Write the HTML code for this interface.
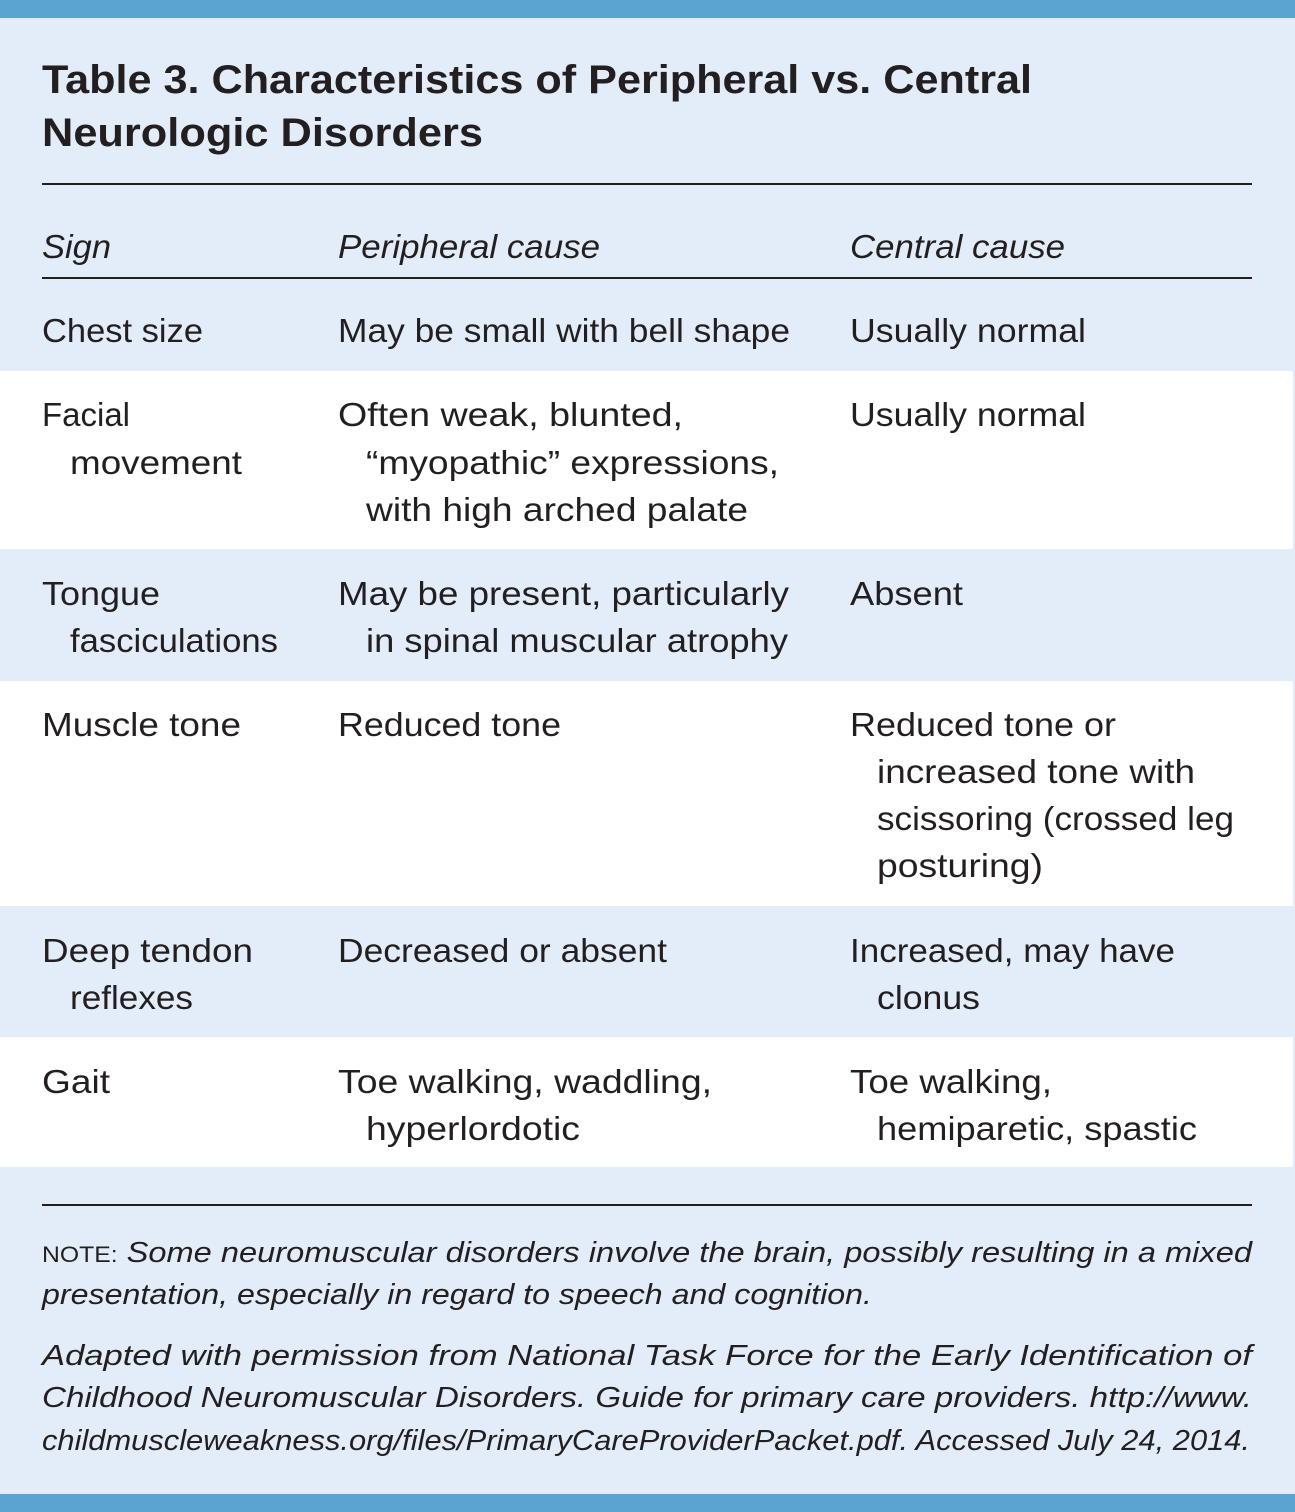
<!DOCTYPE html>
<html><head><meta charset="utf-8"><style>html,body{margin:0;padding:0;background:#e3edf9}svg{display:block}</style></head>
<body>
<svg width="1295" height="1512" viewBox="0 0 1295 1512" xmlns="http://www.w3.org/2000/svg" font-family="Liberation Sans, sans-serif" fill="#231f20">
<rect x="0" y="0" width="1295" height="1512" fill="#e3edf9"/>
<rect x="0" y="0" width="1295" height="18" fill="#5ba3d0"/>
<rect x="0" y="1494" width="1295" height="18" fill="#5ba3d0"/>
<rect x="0" y="371" width="1293" height="178" fill="#ffffff"/>
<rect x="0" y="681" width="1293" height="225" fill="#ffffff"/>
<rect x="0" y="1037" width="1293" height="130" fill="#ffffff"/>
<rect x="1293" y="18" width="2" height="1476" fill="#e3edf9"/>
<rect x="42" y="183" width="1210" height="2" fill="#231f20"/>
<rect x="42" y="277" width="1210" height="2" fill="#231f20"/>
<rect x="42" y="1204" width="1210" height="2" fill="#231f20"/>
<g font-weight="bold" font-size="40">
<text x="42" y="93" textLength="990" lengthAdjust="spacingAndGlyphs">Table 3. Characteristics of Peripheral vs. Central</text>
<text x="42" y="146" textLength="441" lengthAdjust="spacingAndGlyphs">Neurologic Disorders</text>
</g>
<g font-style="italic" font-size="33">
<text x="42" y="258" textLength="69" lengthAdjust="spacingAndGlyphs">Sign</text>
<text x="338" y="258" textLength="262" lengthAdjust="spacingAndGlyphs">Peripheral cause</text>
<text x="850" y="258" textLength="215" lengthAdjust="spacingAndGlyphs">Central cause</text>
</g>
<g font-size="33">
<text x="42" y="342" textLength="161" lengthAdjust="spacingAndGlyphs">Chest size</text>
<text x="338" y="342" textLength="452" lengthAdjust="spacingAndGlyphs">May be small with bell shape</text>
<text x="850" y="342" textLength="236" lengthAdjust="spacingAndGlyphs">Usually normal</text>

<text x="42" y="426" textLength="88" lengthAdjust="spacingAndGlyphs">Facial</text>
<text x="70" y="474" textLength="172" lengthAdjust="spacingAndGlyphs">movement</text>
<text x="338" y="426" textLength="345" lengthAdjust="spacingAndGlyphs">Often weak, blunted,</text>
<text x="366" y="474" textLength="413" lengthAdjust="spacingAndGlyphs">“myopathic” expressions,</text>
<text x="366" y="521" textLength="382" lengthAdjust="spacingAndGlyphs">with high arched palate</text>
<text x="850" y="426" textLength="236" lengthAdjust="spacingAndGlyphs">Usually normal</text>

<text x="42" y="605" textLength="118" lengthAdjust="spacingAndGlyphs">Tongue</text>
<text x="70" y="652" textLength="208" lengthAdjust="spacingAndGlyphs">fasciculations</text>
<text x="338" y="605" textLength="451" lengthAdjust="spacingAndGlyphs">May be present, particularly</text>
<text x="366" y="652" textLength="422" lengthAdjust="spacingAndGlyphs">in spinal muscular atrophy</text>
<text x="850" y="605" textLength="113" lengthAdjust="spacingAndGlyphs">Absent</text>

<text x="42" y="736" textLength="199" lengthAdjust="spacingAndGlyphs">Muscle tone</text>
<text x="338" y="736" textLength="223" lengthAdjust="spacingAndGlyphs">Reduced tone</text>
<text x="850" y="736" textLength="266" lengthAdjust="spacingAndGlyphs">Reduced tone or</text>
<text x="877" y="783" textLength="318" lengthAdjust="spacingAndGlyphs">increased tone with</text>
<text x="877" y="830" textLength="357" lengthAdjust="spacingAndGlyphs">scissoring (crossed leg</text>
<text x="877" y="877" textLength="166" lengthAdjust="spacingAndGlyphs">posturing)</text>

<text x="42" y="962" textLength="211" lengthAdjust="spacingAndGlyphs">Deep tendon</text>
<text x="70" y="1009" textLength="123" lengthAdjust="spacingAndGlyphs">reflexes</text>
<text x="338" y="962" textLength="329" lengthAdjust="spacingAndGlyphs">Decreased or absent</text>
<text x="850" y="962" textLength="325" lengthAdjust="spacingAndGlyphs">Increased, may have</text>
<text x="877" y="1009" textLength="103" lengthAdjust="spacingAndGlyphs">clonus</text>

<text x="42" y="1093" textLength="68" lengthAdjust="spacingAndGlyphs">Gait</text>
<text x="338" y="1093" textLength="374" lengthAdjust="spacingAndGlyphs">Toe walking, waddling,</text>
<text x="366" y="1140" textLength="214" lengthAdjust="spacingAndGlyphs">hyperlordotic</text>
<text x="850" y="1093" textLength="202" lengthAdjust="spacingAndGlyphs">Toe walking,</text>
<text x="877" y="1140" textLength="320" lengthAdjust="spacingAndGlyphs">hemiparetic, spastic</text>
</g>
<g font-size="29">
<text x="42" y="1262" textLength="1210" lengthAdjust="spacingAndGlyphs"><tspan font-size="22">NOTE:</tspan><tspan font-style="italic"> Some neuromuscular disorders involve the brain, possibly resulting in a mixed</tspan></text>
<text x="42" y="1304" font-style="italic" textLength="830" lengthAdjust="spacingAndGlyphs">presentation, especially in regard to speech and cognition.</text>
<text x="42" y="1365" font-style="italic" textLength="1210" lengthAdjust="spacingAndGlyphs">Adapted with permission from National Task Force for the Early Identification of</text>
<text x="42" y="1407" font-style="italic" textLength="1210" lengthAdjust="spacingAndGlyphs">Childhood Neuromuscular Disorders. Guide for primary care providers. http://www.</text>
<text x="42" y="1450" font-style="italic" textLength="1208" lengthAdjust="spacingAndGlyphs">childmuscleweakness.org/files/PrimaryCareProviderPacket.pdf. Accessed July 24, 2014.</text>
</g>
</svg>
</body></html>
